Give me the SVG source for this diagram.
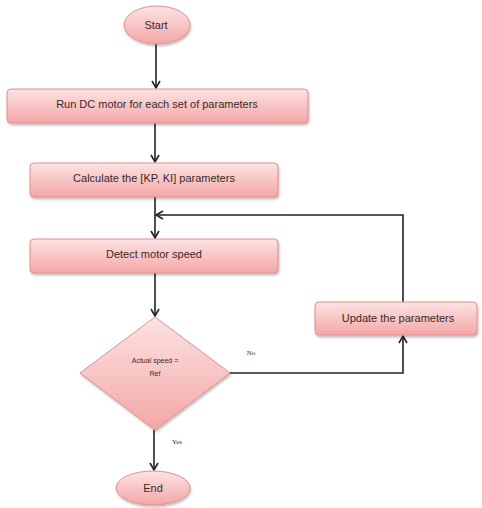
<svg xmlns="http://www.w3.org/2000/svg" width="482" height="508" viewBox="0 0 482 508">
<defs>
<linearGradient id="g" x1="0" y1="0" x2="0" y2="1">
<stop offset="0" stop-color="#fde3e3"/>
<stop offset="1" stop-color="#f4a6a6"/>
</linearGradient>
<marker id="a" markerWidth="10" markerHeight="10" refX="8" refY="5" orient="auto" markerUnits="userSpaceOnUse">
<path d="M1,1 L8,5 L1,9" fill="none" stroke="#222" stroke-width="1.6"/>
</marker>
<filter id="s" x="-10%" y="-20%" width="120%" height="150%">
<feDropShadow dx="1" dy="2" stdDeviation="1.2" flood-color="#000" flood-opacity="0.25"/>
</filter>
</defs>
<style>
.n{fill:url(#g);stroke:#e08e8e;stroke-width:1;filter:url(#s)}
.t{font-family:"Liberation Sans",Arial,sans-serif;font-size:11px;fill:#3a2a2a;text-anchor:middle;dominant-baseline:middle}
.sm{font-family:"Liberation Serif",serif;font-size:7px;fill:#333;text-anchor:middle;dominant-baseline:middle}
.ds{font-family:"Liberation Sans",Arial,sans-serif;font-size:7px;fill:#3a2a2a;text-anchor:middle;dominant-baseline:middle}
.c{fill:none;stroke:#222;stroke-width:1.6}
</style>
<rect width="482" height="508" fill="#fff"/>
<g id="connectors">
<line class="c" x1="156" y1="44" x2="156" y2="88" marker-end="url(#a)"/>
<line class="c" x1="155" y1="123" x2="155" y2="162" marker-end="url(#a)"/>
<line class="c" x1="155" y1="197" x2="155" y2="238" marker-end="url(#a)"/>
<polyline class="c" points="403,302 403,215 156,215" marker-end="url(#a)"/>
<line class="c" x1="155" y1="273" x2="155" y2="316" marker-end="url(#a)"/>
<polyline class="c" points="230,373 403,373 403,336" marker-end="url(#a)"/>
<line class="c" x1="154" y1="430" x2="154" y2="470" marker-end="url(#a)"/>
<text class="sm" x="251" y="353">No</text>
<text class="sm" x="177" y="442">Yes</text>
</g>
<g id="start">
<ellipse class="n" cx="157" cy="25" rx="33" ry="19"/>
<text class="t" x="156" y="26">Start</text>
</g>
<g id="run">
<rect class="n" x="7" y="89" width="301" height="34" rx="4"/>
<text class="t" x="157" y="105">Run DC motor for each set of parameters</text>
</g>
<g id="calc">
<rect class="n" x="30" y="163" width="248" height="34" rx="4"/>
<text class="t" x="154" y="179">Calculate the [KP, KI] parameters</text>
</g>
<g id="detect">
<rect class="n" x="30" y="239" width="248" height="34" rx="4"/>
<text class="t" x="154" y="255">Detect motor speed</text>
</g>
<g id="decision">
<polygon class="n" points="155,317 230,373 155,430 80,373"/>
<text class="ds" x="155" y="361">Actual speed =</text>
<text class="ds" x="155" y="374">Ref</text>
</g>
<g id="update">
<rect class="n" x="315" y="302" width="162" height="33" rx="4"/>
<text class="t" x="398" y="319">Update the parameters</text>
</g>
<g id="end">
<ellipse class="n" cx="153" cy="488" rx="37" ry="17"/>
<text class="t" x="153" y="489">End</text>
</g>
</svg>
